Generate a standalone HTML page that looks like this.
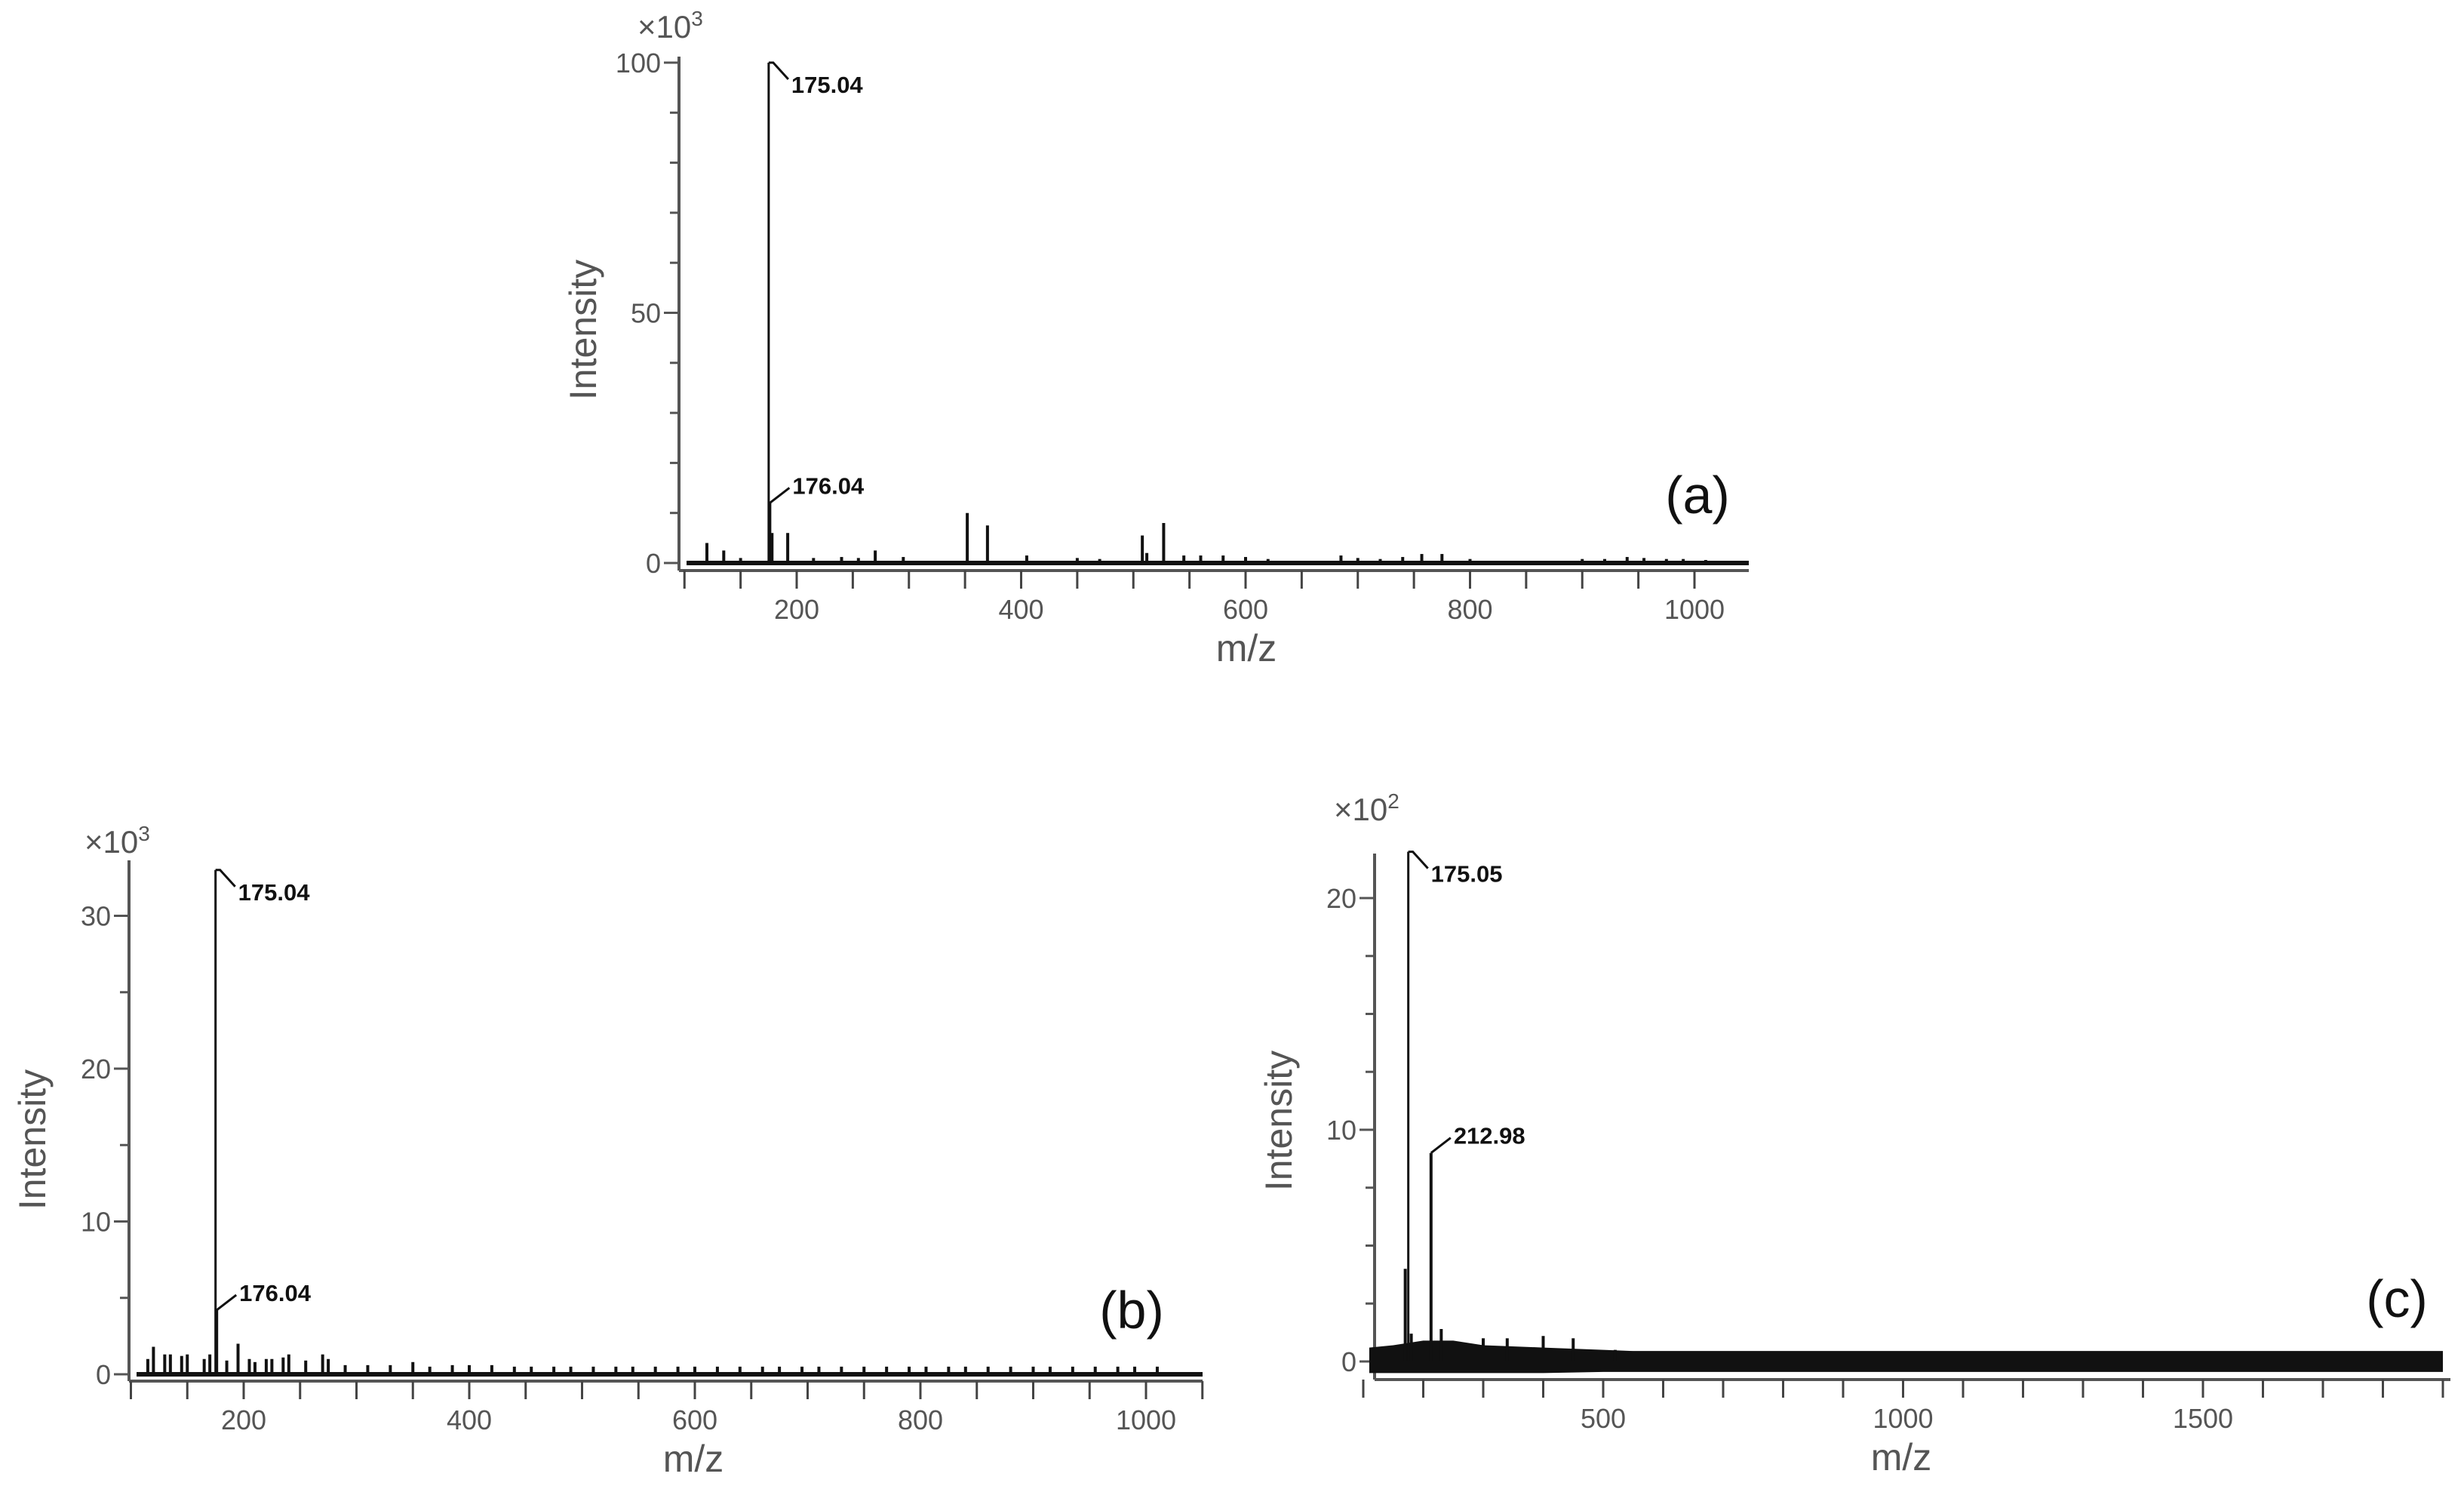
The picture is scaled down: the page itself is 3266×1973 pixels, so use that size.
<!DOCTYPE html>
<html><head><meta charset="utf-8"><style>
html,body{margin:0;padding:0;background:#fff;}
svg{display:block;font-family:"Liberation Sans",sans-serif;}
.tick{fill:#555;font-size:36px;}
.ttl{fill:#555;font-size:50px;}
.mul{fill:#555;font-size:42px;}
.ann{fill:#111;font-size:31px;font-weight:bold;}
.pl{fill:#111;font-size:70px;}
</style></head><body>
<svg id="chart" width="3266" height="1973" viewBox="0 0 3266 1973" xmlns="http://www.w3.org/2000/svg"></svg>
<script>
// Panel (a) data
const aPeakMz=[120,135,150,175.04,176.04,178,192,215,240,255,270,295,352,370,405,450,470,508,512,527,545,560,580,600,620,685,700,720,740,757,775,800,900,920,940,955,975,990,1010];
const aPeakInt=[4,2.5,1,100,12,6,6,1,1.2,1,2.5,1.2,10,7.5,1.5,1,0.8,5.5,2,8,1.5,1.5,1.5,1.2,0.8,1.5,1,0.8,1.2,1.8,1.8,0.8,0.8,0.8,1.2,1,0.8,0.8,0.6];
const aXTicks=[200,400,600,800,1000];
const aYTicks=[0,50,100];
// Panel (b) data
const bPeakMz=[115,120,130,135,145,150,165,170,175.04,176.04,185,195,205,210,220,225,235,240,255,270,275,290,310,330,350,365,385,400,420,440,455,475,490,510,530,545,565,585,600,620,640,660,675,695,710,730,750,770,790,805,825,840,860,880,900,915,935,955,975,990,1010];
const bPeakInt=[1,1.8,1.3,1.3,1.2,1.3,1,1.3,33,4.2,0.9,2,1,0.8,1,1,1.1,1.3,0.9,1.3,1,0.6,0.6,0.6,0.8,0.5,0.6,0.6,0.6,0.5,0.5,0.5,0.5,0.5,0.5,0.5,0.5,0.5,0.5,0.5,0.5,0.5,0.5,0.5,0.5,0.5,0.5,0.5,0.5,0.5,0.5,0.5,0.5,0.5,0.5,0.5,0.5,0.5,0.5,0.5,0.5];
const bXTicks=[200,400,600,800,1000];
const bYTicks=[0,10,20,30];
// Panel (c) data
const cPeakMz=[170,175.05,180,212.98,230,300,340,400,450,520];
const cPeakInt=[4,22,1.2,9,1.4,1,1,1.1,1,0.5];
const cNoiseMz=[110,150,200,250,300,400,500,550,700,1000,1300,1600,1900];
const cNoiseHi=[0.6,0.7,0.9,0.9,0.7,0.6,0.5,0.45,0.45,0.45,0.45,0.45,0.45];
const cNoiseLo=[-0.5,-0.5,-0.5,-0.5,-0.5,-0.5,-0.45,-0.45,-0.45,-0.45,-0.45,-0.45,-0.45];
const cXTicks=[500,1000,1500];
const cYTicks=[0,10,20];

const NS="http://www.w3.org/2000/svg";
const svg=document.getElementById('chart');
function mk(tag,attrs,parent,text){const e=document.createElementNS(NS,tag);for(const k in attrs)e.setAttribute(k,attrs[k]);if(text!==undefined)e.textContent=text;(parent||svg).appendChild(e);return e;}

function panel(cfg){
  const g=mk('g',{});
  
  
  const X=v=>cfg.x0+(v-cfg.xv0)*cfg.xs;
  const Y=v=>cfg.y0-v*cfg.ys;
  const ya=mk('line',{x1:cfg.ax,y1:cfg.ytop,x2:cfg.ax,y2:cfg.axy,stroke:'#555','stroke-width':4},g);
  
  for(let v=0;v<=cfg.ymax;v+=cfg.yminor){mk('line',{x1:cfg.ax-12,y1:Y(v),x2:cfg.ax,y2:Y(v),stroke:'#555','stroke-width':3},g);}
  cfg.yt.forEach(v=>{
    mk('line',{x1:cfg.ax-20,y1:Y(v),x2:cfg.ax,y2:Y(v),stroke:'#555','stroke-width':3},g);
    const t=mk('text',{x:cfg.ax-24,y:Y(v)+13,'text-anchor':'end',class:'tick'},g,String(v));
    
  });
  const xa=mk('line',{x1:cfg.ax,y1:cfg.axy,x2:cfg.axr,y2:cfg.axy,stroke:'#555','stroke-width':4},g);
  
  for(let v=cfg.xminorStart;X(v)<=cfg.axr+1;v+=cfg.xminor){mk('line',{x1:X(v),y1:cfg.axy,x2:X(v),y2:cfg.axy+24,stroke:'#444','stroke-width':3},g);}
  cfg.xt.forEach(v=>{
    const t=mk('text',{x:X(v),y:cfg.axy+64,'text-anchor':'middle',class:'tick'},g,String(v));
    
  });
  const xt=mk('text',{x:cfg.xlx,y:cfg.axy+120,'text-anchor':'middle',class:'ttl'},g,'m/z');
  
  const yt=mk('text',{x:0,y:0,'text-anchor':'middle',class:'ttl',transform:`translate(${cfg.ylx},${cfg.yly}) rotate(-90)`},g,'Intensity');
  
  const mult=mk('text',{x:cfg.mx,y:cfg.my,class:'mul'},g);
  
  mult.textContent='×10';
  mk('tspan',{dy:-16,'font-size':28},mult,cfg.exp);
  if(cfg.noiseMz){
    let d='M'+cfg.noiseMz.map((m,i)=>X(m)+','+Y(cfg.noiseHi[i])).join(' L');
    for(let i=cfg.noiseMz.length-1;i>=0;i--)d+=' L'+X(cfg.noiseMz[i])+','+Y(cfg.noiseLo[i]);
    const nb=mk('path',{d:d+'Z',fill:'#111'},g);
    
  } else {
    const bl=mk('line',{x1:cfg.ax+10,y1:Y(0),x2:cfg.axr,y2:Y(0),stroke:'#111','stroke-width':6},g);
    
  }
  cfg.mz.forEach((m,i)=>{
    const p=mk('line',{x1:X(m),y1:Y(0),x2:X(m),y2:Y(cfg.int[i]),stroke:'#111','stroke-width':cfg.int[i]>15?3:4},g);
    
  });
  cfg.ann.forEach(a=>{
    const px=X(a.mz),py=Y(a.v);
    if(a.down){mk('polyline',{points:`${px},${py} ${px+6},${py} ${px+26},${py+22}`,fill:'none',stroke:'#111','stroke-width':3},g);
      const t=mk('text',{x:px+30,y:py+40,class:'ann'},g,a.label);}
    else{mk('polyline',{points:`${px},${py} ${px+26},${py-20}`,fill:'none',stroke:'#111','stroke-width':3},g);
      const t=mk('text',{x:px+30,y:py-12,class:'ann'},g,a.label);}
  });
  const pl=mk('text',{x:cfg.plx,y:cfg.ply,'text-anchor':'middle',class:'pl'},g,cfg.pl);
  
}

panel({name:'panel-a',x0:1056,xv0:200,xs:297.5/200,y0:746,ys:(746-83)/100,ax:900,ytop:75,axy:756,axr:2318,ymax:100,yminor:10,yt:aYTicks,xt:aXTicks,xminorStart:100,xminor:50,
  xlx:1652,ylx:790,yly:437,mx:845,my:50,exp:'3',mz:aPeakMz,int:aPeakInt,
  ann:[{mz:175.04,v:100,label:'175.04',down:true},{mz:176.04,v:12,label:'176.04'}],pl:'(a)',plx:2250,ply:680});
panel({name:'panel-b',x0:323,xv0:200,xs:299/200,y0:1821,ys:202.5/10,ax:171,ytop:1140,axy:1830,axr:1594,ymax:33,yminor:5,yt:bYTicks,xt:bXTicks,xminorStart:100,xminor:50,
  xlx:919,ylx:60,yly:1510,mx:112,my:1130,exp:'3',mz:bPeakMz,int:bPeakInt,
  ann:[{mz:175.04,v:33,label:'175.04',down:true},{mz:176.04,v:4.2,label:'176.04'}],pl:'(b)',plx:1500,ply:1760});
panel({name:'panel-c',x0:2125,xv0:500,xs:397.5/500,y0:1804,ys:307/10,ax:1822,ytop:1131,axy:1828,axr:3248,ymax:22,yminor:2.5,yt:cYTicks,xt:cXTicks,xminorStart:100,xminor:100,
  xlx:2520,ylx:1712,yly:1485,mx:1768,my:1087,exp:'2',mz:cPeakMz,int:cPeakInt,noiseMz:cNoiseMz,noiseHi:cNoiseHi,noiseLo:cNoiseLo,
  ann:[{mz:175.05,v:22,label:'175.05',down:true},{mz:212.98,v:9,label:'212.98'}],pl:'(c)',plx:3177,ply:1745});
</script>
</body></html>
